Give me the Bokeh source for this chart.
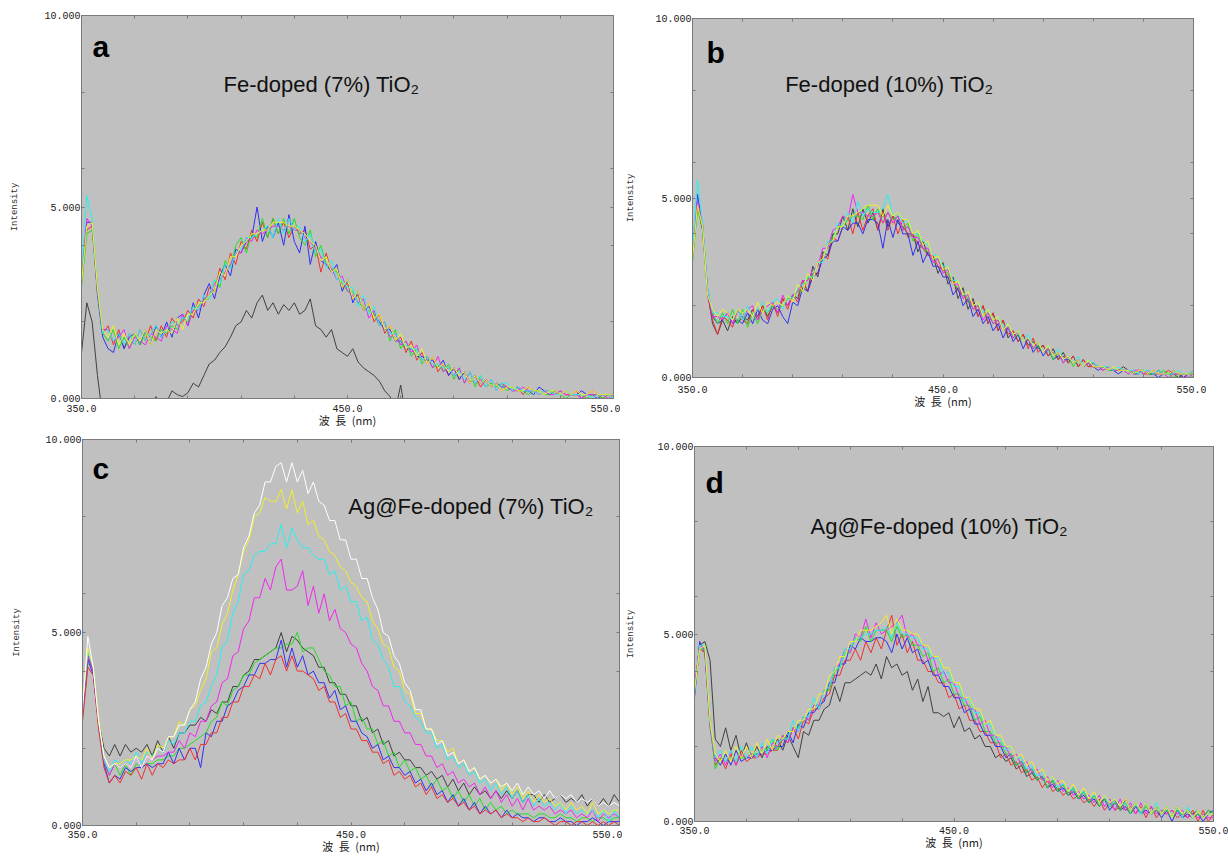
from bokeh.plotting import figure
from bokeh.models import Range1d, FixedTicker, LinearAxis, CustomJSTickFormatter, Label
from bokeh.layouts import column, row
from bokeh.embed import file_html
from bokeh.resources import INLINE

# ---------------- data (2 nm steps) ----------------
wavelength = list(range(350, 551, 2))

x_tick_values = [350, 450, 550]
x_minor_values = [350, 370, 390, 410, 430, 450, 470, 490, 510, 530, 550]
y_tick_values = [0, 5, 10]
y_minor_values = [0, 2, 4, 6, 8, 10]

titles = ["Fe-doped (7%) TiO\u2082", "Fe-doped (10%) TiO\u2082",
          "Ag@Fe-doped (7%) TiO\u2082", "Ag@Fe-doped (10%) TiO\u2082"]
letters = ["a", "b", "c", "d"]

# ---- panel a : Fe-doped (7%) TiO2 ----
a_black = [1.2, 2.5, 2.0, 0.6, -0.5, -1.0, -1.0, -1.0, -1.0, -1.0,
           -1.0, -1.0, -1.0, -0.6, 0.05, -0.3, -0.1, 0.2, 0.1, 0.05,
           0.15, 0.4, 0.3, 0.6, 0.9, 1.0, 1.2, 1.35, 1.6, 1.9,
           2.0, 2.3, 2.1, 2.5, 2.7, 2.3, 2.5, 2.2, 2.45, 2.3,
           2.5, 2.2, 2.3, 2.6, 1.9, 1.8, 1.6, 1.8, 1.3, 1.2,
           1.1, 1.3, 0.95, 0.8, 0.7, 0.6, 0.45, 0.2, 0.05, -0.3,
           0.35, -0.5, -1.0, -1.0, -1.0, -1.0, -1.0, -1.0, -1.0, -1.0,
           -1.0, -1.0, -1.0, -1.0, -1.0, -1.0, -1.0, -1.0, -1.0, -1.0,
           -1.0, -1.0, -1.0, -1.0, -1.0, -1.0, -1.0, -1.0, -1.0, -1.0,
           -1.0, -1.0, -1.0, -1.0, -1.0, -1.0, -1.0, -1.0, -1.0, -1.0,
           -1.0]
a_red = [3.0, 4.4, 4.5, 2.9, 1.7, 1.9, 1.4, 1.8, 1.3, 1.7,
         1.4, 1.8, 1.5, 1.9, 1.5, 1.9, 1.6, 2.1, 1.9, 2.0,
         2.3, 2.1, 2.6, 2.4, 2.9, 2.8, 3.4, 3.1, 3.8, 3.5,
         4.1, 3.9, 4.4, 4.1, 4.6, 4.2, 4.7, 4.3, 4.6, 4.2,
         4.5, 4.3, 4.4, 3.9, 4.0, 3.3, 3.8, 3.3, 3.4, 2.9,
         3.0, 2.6, 2.7, 2.3, 2.5, 2.0, 2.2, 1.7, 1.9, 1.5,
         1.6, 1.2, 1.5, 1.0, 1.2, 0.9, 1.1, 0.7, 0.9, 0.6,
         0.8, 0.5, 0.7, 0.4, 0.6, 0.3, 0.5, 0.3, 0.4, 0.2,
         0.3, 0.2, 0.3, 0.1, 0.3, 0.2, 0.1, 0.2, 0.2, 0.1,
         0.2, 0.1, 0.1, 0.2, 0.0, 0.1, 0.2, 0.1, 0.0, 0.1,
         0.1]
a_blue = [3.2, 4.6, 4.6, 2.7, 1.6, 1.3, 1.2, 1.7, 1.3, 1.6,
          1.7, 1.4, 1.8, 1.4, 1.9, 1.6, 2.0, 1.6, 2.1, 2.2,
          1.9, 2.5, 2.1, 2.7, 3.0, 2.6, 3.2, 3.5, 3.2, 3.9,
          3.8, 4.1, 4.2, 5.0, 4.1, 4.5, 4.2, 4.6, 4.0, 4.8,
          4.1, 3.8, 4.5, 3.5, 4.1, 3.6, 3.5, 3.3, 3.5, 2.8,
          3.1, 2.5, 2.8, 2.3, 2.4, 2.2, 2.0, 1.8, 1.8, 1.5,
          1.5, 1.3, 1.3, 1.1, 1.1, 1.0, 1.0, 0.8, 1.0, 0.6,
          0.8, 0.5, 0.7, 0.4, 0.6, 0.4, 0.5, 0.3, 0.4, 0.3,
          0.3, 0.2, 0.3, 0.2, 0.2, 0.1, 0.3, 0.2, 0.1, 0.2,
          0.1, 0.2, 0.1, 0.1, 0.2, 0.1, 0.1, 0.0, 0.1, 0.1,
          0.1]
a_green = [2.9, 4.3, 4.4, 2.8, 1.7, 1.5, 1.8, 1.3, 1.6, 1.3,
           1.7, 1.4, 1.7, 1.6, 1.5, 1.8, 1.7, 1.9, 1.8, 2.1,
           2.0, 2.3, 2.4, 2.6, 2.6, 3.1, 2.9, 3.6, 3.4, 4.0,
           4.2, 3.8, 4.3, 4.2, 4.7, 4.2, 4.7, 4.3, 4.7, 4.3,
           4.7, 4.2, 4.0, 4.4, 3.7, 4.0, 3.5, 3.4, 3.3, 3.0,
           2.8, 2.8, 2.5, 2.4, 2.3, 2.2, 1.9, 2.0, 1.5, 1.8,
           1.3, 1.5, 1.1, 1.3, 0.9, 1.1, 0.8, 0.9, 0.7, 0.9,
           0.5, 0.8, 0.4, 0.7, 0.3, 0.6, 0.3, 0.4, 0.3, 0.4,
           0.2, 0.3, 0.2, 0.2, 0.1, 0.2, 0.2, 0.1, 0.1, 0.2,
           0.1, 0.0, 0.1, 0.1, 0.1, 0.0, 0.1, 0.1, 0.0, 0.1,
           0.0]
a_magenta = [3.1, 4.7, 4.5, 2.8, 1.8, 1.8, 1.5, 1.6, 1.8, 1.3,
             1.6, 1.5, 1.4, 1.7, 1.6, 1.5, 1.9, 1.8, 1.7, 2.2,
             1.9, 2.3, 2.3, 2.6, 2.7, 3.0, 3.1, 3.3, 3.5, 3.8,
             3.8, 4.2, 4.1, 4.4, 4.3, 4.4, 4.5, 4.5, 4.4, 4.5,
             4.4, 4.4, 4.2, 4.1, 3.9, 3.7, 3.5, 3.4, 3.1, 3.2,
             2.8, 2.7, 2.5, 2.6, 2.1, 2.3, 1.9, 2.0, 1.6, 1.7,
             1.4, 1.5, 1.2, 1.4, 1.0, 1.1, 0.8, 1.1, 0.7, 0.8,
             0.6, 0.8, 0.4, 0.7, 0.4, 0.5, 0.3, 0.5, 0.2, 0.4,
             0.3, 0.2, 0.2, 0.3, 0.2, 0.2, 0.1, 0.2, 0.1, 0.1,
             0.2, 0.1, 0.1, 0.1, 0.0, 0.1, 0.1, 0.1, 0.1, 0.0,
             0.1]
a_cyan = [3.3, 5.3, 4.7, 2.9, 1.7, 1.8, 1.5, 1.7, 1.4, 1.7,
          1.4, 1.8, 1.5, 1.7, 1.9, 1.6, 1.8, 2.0, 1.9, 2.1,
          2.1, 2.4, 2.3, 2.7, 2.6, 3.1, 3.0, 3.5, 3.4, 3.8,
          3.9, 4.2, 4.2, 4.3, 4.4, 4.5, 4.2, 4.7, 4.3, 4.7,
          4.4, 4.5, 4.1, 4.3, 3.8, 3.9, 3.4, 3.6, 3.1, 3.1,
          2.9, 2.9, 2.4, 2.7, 2.2, 2.4, 1.9, 2.0, 1.7, 1.7,
          1.5, 1.4, 1.3, 1.3, 1.0, 1.1, 0.9, 0.9, 0.8, 0.8,
          0.6, 0.7, 0.5, 0.7, 0.4, 0.6, 0.3, 0.5, 0.2, 0.4,
          0.4, 0.2, 0.3, 0.2, 0.2, 0.2, 0.1, 0.2, 0.2, 0.1,
          0.1, 0.2, 0.1, 0.1, 0.1, 0.1, 0.0, 0.1, 0.1, 0.1,
          0.0]
a_yellow = [3.0, 4.5, 4.6, 2.9, 1.8, 1.6, 1.9, 1.4, 1.7, 1.4,
            1.7, 1.5, 1.8, 1.4, 1.8, 1.7, 1.8, 1.7, 2.1, 1.8,
            2.2, 2.2, 2.5, 2.5, 2.7, 2.8, 3.3, 3.2, 3.7, 3.7,
            4.0, 4.1, 4.3, 4.3, 4.4, 4.4, 4.6, 4.6, 4.6, 4.5,
            4.5, 4.4, 4.3, 4.1, 4.0, 3.6, 3.7, 3.3, 3.4, 2.9,
            3.1, 2.6, 2.8, 2.3, 2.5, 2.1, 2.2, 1.8, 1.9, 1.5,
            1.7, 1.3, 1.4, 1.1, 1.3, 0.9, 1.1, 0.8, 0.9, 0.7,
            0.8, 0.6, 0.7, 0.4, 0.6, 0.4, 0.5, 0.3, 0.4, 0.2,
            0.3, 0.3, 0.2, 0.2, 0.3, 0.2, 0.2, 0.1, 0.2, 0.2,
            0.1, 0.2, 0.1, 0.2, 0.1, 0.1, 0.2, 0.1, 0.1, 0.1,
            0.1]

# ---- panel b : Fe-doped (10%) TiO2 ----
b_black = [3.3, 4.8, 4.1, 2.4, 1.5, 1.2, 1.6, 1.3, 1.7, 1.5,
           1.7, 1.6, 1.9, 1.7, 2.0, 1.7, 2.0, 1.8, 2.2, 2.0,
           2.3, 2.2, 2.7, 2.4, 3.1, 2.8, 3.5, 3.4, 4.0, 4.0,
           4.5, 4.1, 4.7, 4.2, 4.7, 4.3, 4.6, 4.1, 4.7, 4.2,
           4.5, 4.3, 4.2, 4.0, 4.0, 3.5, 3.8, 3.4, 3.4, 2.9,
           3.2, 2.6, 2.8, 2.2, 2.5, 1.9, 2.2, 1.7, 2.0, 1.5,
           1.8, 1.3, 1.6, 1.1, 1.3, 1.0, 1.2, 0.9, 1.0, 0.8,
           0.9, 0.6, 0.8, 0.5, 0.7, 0.4, 0.6, 0.3, 0.5, 0.3,
           0.4, 0.3, 0.3, 0.2, 0.2, 0.2, 0.3, 0.2, 0.1, 0.2,
           0.2, 0.1, 0.1, 0.2, 0.1, 0.1, 0.1, 0.0, 0.1, 0.1,
           0.1]
b_red = [3.5, 4.7, 4.3, 2.3, 1.6, 1.2, 1.7, 1.6, 1.4, 1.9,
         1.6, 1.5, 1.9, 1.6, 2.0, 1.6, 2.1, 1.7, 2.2, 1.9,
         2.3, 2.1, 2.7, 2.4, 2.9, 2.9, 3.4, 3.3, 3.9, 3.8,
         4.2, 4.5, 4.0, 4.6, 4.1, 4.5, 4.7, 4.1, 4.6, 4.1,
         4.5, 4.0, 4.4, 3.9, 4.0, 3.7, 3.6, 3.4, 3.4, 3.1,
         3.0, 2.8, 2.7, 2.4, 2.3, 2.1, 2.1, 1.7, 2.0, 1.5,
         1.8, 1.3, 1.6, 1.2, 1.3, 1.0, 1.2, 0.8, 1.1, 0.7,
         0.9, 0.6, 0.7, 0.5, 0.6, 0.4, 0.6, 0.3, 0.5, 0.3,
         0.3, 0.3, 0.2, 0.3, 0.2, 0.2, 0.2, 0.2, 0.1, 0.2,
         0.1, 0.1, 0.2, 0.1, 0.1, 0.2, 0.1, 0.1, 0.0, 0.1,
         0.2]
b_blue = [3.4, 5.1, 4.2, 2.5, 1.7, 1.5, 1.6, 1.8, 1.5, 1.6,
          1.5, 1.8, 1.5, 1.9, 1.6, 1.5, 1.9, 2.0, 1.7, 1.5,
          2.1, 2.0, 2.5, 2.4, 2.8, 2.9, 3.3, 3.4, 3.8, 3.8,
          4.2, 4.1, 4.3, 4.3, 4.0, 4.4, 4.4, 4.3, 3.6, 4.4,
          3.9, 4.4, 4.0, 4.0, 3.4, 3.8, 3.2, 3.5, 3.1, 3.1,
          2.8, 2.8, 2.3, 2.5, 2.0, 2.2, 1.7, 1.9, 1.5, 1.7,
          1.3, 1.5, 1.1, 1.4, 1.0, 1.2, 0.8, 1.1, 0.7, 0.9,
          0.6, 0.8, 0.5, 0.6, 0.5, 0.5, 0.4, 0.5, 0.3, 0.4,
          0.3, 0.2, 0.3, 0.2, 0.2, 0.1, 0.2, 0.2, 0.1, 0.1,
          0.2, 0.1, 0.1, 0.0, 0.1, 0.1, 0.2, 0.1, 0.0, 0.1,
          0.1]
b_green = [3.2, 4.7, 4.2, 2.4, 1.8, 1.5, 1.8, 1.5, 1.9, 1.5,
           1.9, 1.4, 1.8, 1.5, 1.9, 1.8, 2.0, 1.9, 2.0, 2.2,
           2.2, 2.4, 2.4, 2.8, 2.8, 3.2, 3.3, 3.7, 3.9, 4.2,
           4.2, 4.4, 4.5, 4.5, 4.4, 4.8, 4.4, 4.7, 4.3, 4.6,
           4.4, 4.5, 4.1, 4.3, 3.8, 4.0, 3.6, 3.5, 3.3, 3.3,
           3.0, 2.9, 2.6, 2.5, 2.3, 2.2, 1.9, 2.0, 1.7, 1.8,
           1.5, 1.6, 1.3, 1.4, 1.1, 1.2, 1.0, 1.1, 0.8, 0.9,
           0.7, 0.8, 0.5, 0.7, 0.4, 0.6, 0.3, 0.5, 0.3, 0.4,
           0.3, 0.3, 0.3, 0.2, 0.2, 0.2, 0.2, 0.1, 0.2, 0.1,
           0.2, 0.1, 0.1, 0.1, 0.2, 0.1, 0.0, 0.1, 0.1, 0.1,
           0.0]
b_magenta = [3.4, 4.9, 4.3, 2.4, 1.7, 1.7, 1.6, 1.8, 1.5, 1.9,
             1.6, 1.9, 2.0, 1.6, 1.9, 2.0, 2.1, 1.8, 2.3, 2.0,
             2.3, 2.4, 2.7, 2.7, 3.0, 3.1, 3.6, 3.6, 4.1, 4.2,
             4.5, 4.4, 5.1, 4.6, 4.6, 4.5, 4.5, 4.6, 4.3, 4.6,
             4.3, 4.5, 4.1, 4.2, 3.9, 3.9, 3.6, 3.6, 3.2, 3.3,
             2.9, 3.0, 2.6, 2.6, 2.2, 2.3, 1.9, 2.0, 1.6, 1.8,
             1.5, 1.6, 1.3, 1.4, 1.1, 1.3, 1.0, 1.1, 0.8, 1.0,
             0.7, 0.8, 0.6, 0.7, 0.4, 0.6, 0.4, 0.5, 0.3, 0.4,
             0.3, 0.3, 0.2, 0.3, 0.2, 0.2, 0.2, 0.1, 0.2, 0.2,
             0.1, 0.2, 0.1, 0.1, 0.1, 0.0, 0.1, 0.1, 0.1, 0.0,
             0.1]
b_cyan = [3.5, 5.5, 4.3, 2.5, 1.8, 1.8, 1.7, 1.7, 1.6, 1.9,
          1.6, 2.0, 1.7, 1.9, 2.1, 1.8, 2.1, 2.2, 1.9, 2.3,
          2.2, 2.5, 2.6, 2.8, 2.8, 3.2, 3.2, 3.8, 3.8, 4.3,
          4.2, 4.6, 4.3, 4.9, 4.5, 4.7, 4.6, 4.6, 4.7, 5.1,
          4.5, 4.6, 4.3, 4.4, 4.0, 4.0, 3.8, 3.7, 3.4, 3.4,
          3.1, 3.1, 2.7, 2.7, 2.3, 2.4, 2.0, 2.1, 1.8, 1.9,
          1.6, 1.7, 1.4, 1.5, 1.2, 1.3, 1.0, 1.2, 0.9, 1.0,
          0.7, 0.9, 0.6, 0.8, 0.5, 0.6, 0.4, 0.6, 0.3, 0.5,
          0.4, 0.3, 0.3, 0.3, 0.2, 0.3, 0.2, 0.2, 0.2, 0.1,
          0.2, 0.2, 0.1, 0.2, 0.1, 0.1, 0.1, 0.2, 0.1, 0.1,
          0.2]
b_yellow = [3.3, 4.8, 4.2, 2.3, 1.9, 1.7, 1.9, 1.8, 1.6, 1.9,
            1.8, 1.9, 1.7, 2.1, 1.8, 2.1, 2.0, 2.1, 2.0, 2.3,
            2.1, 2.6, 2.4, 2.9, 2.7, 3.2, 3.3, 3.7, 3.8, 4.2,
            4.2, 4.5, 4.5, 4.6, 4.7, 4.8, 4.8, 4.8, 4.5, 4.8,
            4.5, 4.6, 4.4, 4.4, 4.0, 4.1, 3.7, 3.8, 3.3, 3.4,
            3.0, 3.1, 2.6, 2.7, 2.3, 2.4, 2.0, 2.1, 1.7, 1.9,
            1.6, 1.7, 1.3, 1.5, 1.2, 1.3, 1.0, 1.1, 0.9, 1.0,
            0.7, 0.9, 0.6, 0.7, 0.5, 0.6, 0.4, 0.5, 0.3, 0.5,
            0.3, 0.3, 0.3, 0.2, 0.3, 0.2, 0.2, 0.2, 0.1, 0.2,
            0.2, 0.1, 0.2, 0.1, 0.1, 0.1, 0.2, 0.1, 0.1, 0.1,
            0.1]

# ---- panel c : Ag@Fe-doped (7%) TiO2 ----
c_black = [3.0, 4.4, 4.0, 2.7, 2.0, 1.8, 2.1, 1.8, 2.1, 1.9,
           2.0, 1.9, 2.1, 1.8, 2.2, 1.9, 2.3, 2.0, 2.4, 2.4,
           2.6, 2.6, 2.8, 2.7, 3.0, 2.9, 3.2, 3.2, 3.6, 3.6,
           3.9, 4.0, 4.3, 4.3, 4.4, 4.5, 4.6, 5.0, 4.5, 4.9,
           4.8, 4.6, 4.5, 4.4, 4.1, 4.1, 3.7, 3.7, 3.4, 3.4,
           3.1, 3.1, 2.7, 2.8, 2.4, 2.5, 2.1, 2.2, 1.8, 1.9,
           1.7, 1.7, 1.5, 1.5, 1.3, 1.4, 1.2, 1.3, 1.0, 1.2,
           0.9, 1.1, 0.8, 1.0, 0.8, 0.9, 0.7, 0.9, 0.7, 0.9,
           0.7, 0.9, 0.6, 0.8, 0.8, 0.6, 0.8, 0.6, 0.7, 0.8,
           0.6, 0.7, 0.6, 0.8, 0.5, 0.7, 0.5, 0.7, 0.5, 0.8,
           0.6]
c_green = [2.8, 4.2, 4.1, 2.6, 1.6, 1.3, 1.6, 1.3, 1.6, 1.3,
           1.6, 1.5, 1.6, 1.6, 1.7, 1.7, 1.8, 1.8, 2.0, 2.0,
           2.1, 2.2, 2.3, 2.4, 2.7, 2.8, 3.2, 3.1, 3.5, 3.6,
           3.9, 3.9, 4.2, 4.3, 4.4, 4.5, 4.6, 4.6, 4.7, 4.7,
           5.0, 4.5, 4.6, 4.6, 4.3, 4.0, 3.9, 3.6, 3.6, 3.1,
           3.2, 2.7, 2.8, 2.5, 2.5, 2.1, 2.2, 1.8, 1.9, 1.5,
           1.7, 1.4, 1.5, 1.2, 1.3, 1.0, 1.2, 0.9, 1.0, 0.7,
           0.9, 0.6, 0.8, 0.5, 0.7, 0.4, 0.6, 0.4, 0.5, 0.3,
           0.4, 0.3, 0.3, 0.3, 0.2, 0.3, 0.3, 0.2, 0.2, 0.3,
           0.2, 0.2, 0.1, 0.2, 0.2, 0.1, 0.2, 0.2, 0.1, 0.2,
           0.2]
c_blue = [2.9, 4.3, 3.9, 2.6, 1.6, 1.1, 1.3, 1.2, 1.5, 1.4,
          1.5, 1.5, 1.6, 1.5, 1.6, 1.6, 1.9, 1.6, 2.0, 1.7,
          2.0, 2.0, 1.5, 2.4, 2.3, 2.7, 2.7, 3.1, 3.2, 3.5,
          3.6, 3.9, 3.9, 4.2, 4.2, 4.3, 4.3, 4.8, 4.1, 4.6,
          4.1, 4.4, 3.9, 4.0, 3.7, 3.7, 3.3, 3.5, 3.0, 3.1,
          2.7, 2.7, 2.4, 2.3, 2.0, 2.1, 1.7, 1.8, 1.5, 1.5,
          1.3, 1.4, 1.1, 1.2, 0.9, 1.1, 0.8, 0.9, 0.6, 0.8,
          0.5, 0.7, 0.4, 0.6, 0.3, 0.5, 0.3, 0.4, 0.2, 0.4,
          0.2, 0.3, 0.2, 0.2, 0.1, 0.2, 0.2, 0.1, 0.1, 0.2,
          0.1, 0.1, 0.0, 0.1, 0.1, 0.2, 0.1, 0.0, 0.1, 0.1,
          0.1]
c_red = [2.7, 4.1, 3.9, 2.5, 1.5, 1.1, 1.3, 1.1, 1.4, 1.3,
         1.5, 1.2, 1.6, 1.3, 1.6, 1.5, 1.7, 1.6, 1.7, 1.7,
         2.0, 1.7, 2.1, 2.1, 2.4, 2.4, 2.8, 2.8, 3.2, 3.2,
         3.6, 3.6, 3.9, 3.8, 4.2, 3.9, 4.3, 4.4, 4.0, 4.4,
         4.0, 4.0, 3.9, 3.8, 3.5, 3.6, 3.2, 3.2, 2.8, 2.9,
         2.5, 2.5, 2.2, 2.2, 1.9, 1.9, 1.6, 1.7, 1.3, 1.4,
         1.2, 1.3, 1.0, 1.1, 0.8, 1.0, 0.7, 0.8, 0.6, 0.7,
         0.5, 0.6, 0.4, 0.5, 0.3, 0.4, 0.3, 0.4, 0.2, 0.3,
         0.2, 0.2, 0.1, 0.2, 0.1, 0.1, 0.2, 0.1, 0.0, 0.1,
         0.1, 0.0, 0.1, 0.1, 0.0, 0.1, 0.0, 0.1, 0.0, 0.1,
         0.0]
c_magenta = [3.0, 4.4, 4.0, 2.7, 1.7, 1.3, 1.6, 1.5, 1.6, 1.5,
             1.8, 1.5, 1.8, 1.7, 1.8, 1.8, 1.9, 1.9, 2.2, 2.0,
             2.4, 2.3, 2.7, 2.7, 3.1, 3.2, 3.7, 3.8, 4.4, 4.5,
             5.1, 5.3, 5.9, 5.9, 6.4, 6.1, 6.7, 6.9, 6.1, 6.1,
             6.2, 6.6, 5.7, 6.2, 5.5, 6.0, 5.3, 5.6, 5.1, 5.0,
             4.7, 4.6, 4.2, 4.0, 3.6, 3.5, 3.1, 3.1, 2.7, 2.7,
             2.4, 2.4, 2.1, 2.1, 1.8, 1.8, 1.5, 1.6, 1.3, 1.4,
             1.1, 1.2, 1.0, 1.1, 0.8, 1.0, 0.7, 0.9, 0.6, 0.8,
             0.5, 0.7, 0.4, 0.7, 0.4, 0.5, 0.4, 0.5, 0.3, 0.4,
             0.3, 0.4, 0.2, 0.3, 0.2, 0.4, 0.1, 0.3, 0.2, 0.3,
             0.2]
c_cyan = [3.1, 4.5, 4.1, 2.7, 1.7, 1.4, 1.7, 1.6, 1.7, 1.6,
          1.9, 1.6, 1.9, 1.8, 2.0, 1.9, 2.2, 2.1, 2.4, 2.4,
          2.7, 2.7, 3.1, 3.2, 3.6, 3.9, 4.6, 4.8, 5.5, 5.8,
          6.5, 6.6, 7.0, 7.1, 7.1, 7.3, 7.3, 7.8, 7.2, 7.7,
          7.4, 7.2, 7.2, 7.0, 6.9, 6.9, 6.5, 6.6, 6.1, 6.2,
          5.8, 5.8, 5.3, 5.4, 4.8, 4.7, 4.3, 4.1, 3.6, 3.6,
          3.2, 3.1, 2.8, 2.7, 2.4, 2.4, 2.0, 2.1, 1.7, 1.8,
          1.5, 1.6, 1.3, 1.4, 1.1, 1.2, 0.9, 1.1, 0.8, 1.0,
          0.7, 0.9, 0.6, 0.8, 0.5, 0.7, 0.5, 0.6, 0.4, 0.6,
          0.3, 0.5, 0.3, 0.4, 0.3, 0.4, 0.2, 0.4, 0.1, 0.4,
          0.2]
c_yellow = [3.2, 4.6, 4.1, 2.8, 1.8, 1.5, 1.6, 1.6, 1.7, 1.7,
            1.8, 1.7, 2.0, 1.7, 2.1, 2.0, 2.3, 2.3, 2.7, 2.6,
            3.0, 3.1, 3.5, 3.8, 4.5, 4.6, 5.2, 5.5, 6.1, 6.5,
            7.1, 7.4, 8.0, 8.1, 8.5, 8.4, 8.4, 8.7, 8.2, 8.7,
            8.1, 8.4, 7.8, 7.9, 7.5, 7.4, 7.1, 7.0, 6.7, 6.6,
            6.3, 6.2, 5.9, 5.8, 5.3, 5.1, 4.7, 4.6, 4.1, 4.0,
            3.5, 3.4, 2.9, 2.9, 2.5, 2.5, 2.2, 2.2, 1.9, 2.0,
            1.6, 1.7, 1.4, 1.5, 1.2, 1.3, 1.1, 1.2, 0.9, 1.1,
            0.8, 1.0, 0.7, 0.9, 0.6, 0.8, 0.6, 0.7, 0.5, 0.6,
            0.4, 0.6, 0.4, 0.5, 0.3, 0.6, 0.3, 0.4, 0.3, 0.4,
            0.4]
c_white = [3.0, 4.9, 4.1, 2.7, 1.8, 1.5, 1.6, 1.5, 1.6, 1.5,
           1.8, 1.5, 1.8, 1.7, 2.0, 1.9, 2.3, 2.3, 2.6, 2.6,
           3.0, 3.2, 3.8, 4.1, 4.7, 5.0, 5.7, 5.9, 6.4, 6.5,
           7.2, 7.5, 8.1, 8.3, 8.9, 8.9, 9.3, 9.4, 8.9, 9.4,
           8.9, 9.2, 8.6, 8.9, 8.4, 8.3, 7.9, 7.9, 7.4, 7.4,
           6.9, 6.9, 6.4, 6.4, 5.9, 5.6, 5.0, 4.9, 4.4, 4.2,
           3.7, 3.5, 3.0, 3.0, 2.5, 2.5, 2.1, 2.2, 1.8, 1.9,
           1.6, 1.7, 1.4, 1.5, 1.2, 1.3, 1.1, 1.2, 1.0, 1.1,
           0.9, 1.1, 0.8, 1.0, 0.8, 0.9, 0.7, 0.9, 0.7, 0.8,
           0.7, 0.8, 0.6, 0.7, 0.6, 0.7, 0.5, 0.6, 0.5, 0.6,
           0.5]

# ---- panel d : Ag@Fe-doped (10%) TiO2 ----
d_black = [3.5, 4.7, 4.8, 4.3, 2.2, 2.0, 2.5, 1.9, 2.3, 1.7,
           2.1, 1.7, 2.0, 1.7, 2.0, 1.9, 2.2, 1.9, 2.3, 2.0,
           1.7, 2.4, 2.3, 2.7, 2.7, 3.0, 3.1, 3.6, 3.2, 3.7,
           3.7, 3.8, 3.9, 4.0, 3.9, 4.2, 3.8, 4.4, 4.1, 4.2,
           3.9, 4.0, 3.5, 3.8, 3.2, 3.6, 2.9, 2.9, 2.8, 2.9,
           2.5, 2.8, 2.4, 2.5, 2.2, 2.3, 2.0, 2.0, 1.7, 1.8,
           1.6, 1.7, 1.4, 1.5, 1.2, 1.3, 1.1, 1.2, 0.9, 1.1,
           0.8, 1.0, 0.7, 0.9, 0.6, 0.8, 0.5, 0.7, 0.5, 0.6,
           0.4, 0.6, 0.3, 0.6, 0.3, 0.5, 0.2, 0.5, 0.2, 0.4,
           0.2, 0.4, 0.1, 0.4, 0.1, 0.3, 0.2, 0.3, 0.1, 0.3,
           0.2]
d_red = [3.4, 4.6, 4.5, 2.5, 1.5, 1.7, 1.4, 1.8, 1.5, 1.9,
         1.6, 1.7, 1.7, 1.8, 1.8, 1.9, 1.9, 2.2, 2.1, 2.5,
         2.2, 2.7, 2.6, 3.0, 3.0, 3.3, 3.4, 3.9, 3.9, 4.3,
         4.3, 4.6, 4.3, 4.8, 4.5, 4.9, 4.6, 5.1, 5.5, 4.7,
         5.0, 4.5, 4.8, 4.3, 4.3, 4.0, 4.0, 3.7, 3.7, 3.3,
         3.4, 3.0, 3.1, 2.7, 2.7, 2.4, 2.4, 2.1, 2.1, 1.7,
         1.8, 1.5, 1.6, 1.3, 1.4, 1.1, 1.2, 0.9, 1.1, 0.8,
         0.9, 0.7, 0.8, 0.6, 0.7, 0.5, 0.6, 0.4, 0.6, 0.3,
         0.5, 0.3, 0.4, 0.3, 0.4, 0.2, 0.4, 0.1, 0.4, 0.1,
         0.3, 0.2, 0.3, 0.1, 0.2, 0.1, 0.3, 0.0, 0.3, 0.0,
         0.2]
d_blue = [3.3, 4.8, 4.5, 2.6, 1.7, 1.5, 1.8, 1.5, 1.9, 1.6,
          1.7, 1.7, 1.8, 1.8, 1.9, 1.9, 2.0, 2.0, 2.4, 2.1,
          2.6, 2.5, 2.9, 2.9, 3.1, 3.2, 3.7, 3.7, 4.2, 4.2,
          4.7, 4.6, 4.9, 4.8, 4.8, 4.9, 4.9, 4.8, 4.5, 5.0,
          4.6, 4.9, 4.5, 4.6, 4.2, 4.3, 3.9, 3.9, 3.6, 3.6,
          3.3, 3.3, 2.9, 3.0, 2.6, 2.6, 2.3, 2.3, 2.0, 2.0,
          1.7, 1.8, 1.5, 1.6, 1.3, 1.4, 1.1, 1.2, 0.9, 1.0,
          0.8, 0.9, 0.7, 0.8, 0.6, 0.7, 0.5, 0.6, 0.4, 0.6,
          0.3, 0.5, 0.3, 0.4, 0.2, 0.4, 0.2, 0.3, 0.2, 0.3,
          0.1, 0.3, 0.0, 0.3, 0.1, 0.2, 0.1, 0.2, 0.0, 0.2,
          0.3]
d_green = [3.5, 4.6, 4.6, 2.7, 1.4, 1.7, 1.6, 1.7, 1.6, 1.7,
           1.7, 1.8, 1.8, 1.9, 1.9, 2.2, 1.9, 2.3, 2.2, 2.5,
           2.5, 2.8, 2.7, 3.1, 3.1, 3.5, 3.5, 4.0, 4.1, 4.5,
           4.5, 4.9, 4.8, 5.2, 4.8, 5.1, 5.1, 5.1, 4.8, 5.2,
           4.9, 5.0, 4.7, 4.7, 4.4, 4.5, 4.0, 4.1, 3.7, 3.8,
           3.4, 3.4, 3.1, 3.1, 2.7, 2.8, 2.4, 2.4, 2.1, 2.1,
           1.8, 1.8, 1.5, 1.6, 1.3, 1.4, 1.1, 1.2, 0.9, 1.1,
           0.8, 1.0, 0.7, 0.9, 0.6, 0.8, 0.5, 0.7, 0.4, 0.6,
           0.4, 0.5, 0.3, 0.5, 0.2, 0.5, 0.2, 0.4, 0.2, 0.3,
           0.2, 0.3, 0.1, 0.3, 0.2, 0.3, 0.1, 0.2, 0.1, 0.3,
           0.2]
d_magenta = [3.6, 4.7, 4.6, 2.6, 1.6, 1.8, 1.5, 1.9, 1.5, 1.8,
             1.7, 1.8, 1.7, 2.0, 1.7, 2.1, 2.0, 2.3, 2.1, 2.5,
             2.4, 2.8, 2.7, 3.1, 3.1, 3.5, 3.6, 4.1, 4.2, 4.6,
             4.5, 5.0, 4.9, 5.4, 4.9, 5.3, 5.0, 5.1, 5.2, 5.3,
             5.5, 4.9, 5.0, 4.7, 4.7, 4.3, 4.4, 3.9, 4.0, 3.7,
             3.7, 3.3, 3.3, 3.0, 3.0, 2.6, 2.7, 2.3, 2.3, 2.0,
             2.0, 1.7, 1.8, 1.5, 1.6, 1.3, 1.4, 1.1, 1.2, 0.9,
             1.1, 0.8, 0.9, 0.7, 0.8, 0.6, 0.7, 0.5, 0.7, 0.4,
             0.6, 0.3, 0.6, 0.3, 0.5, 0.2, 0.5, 0.2, 0.4, 0.2,
             0.3, 0.2, 0.3, 0.2, 0.3, 0.1, 0.2, 0.1, 0.2, 0.1,
             0.1]
d_cyan = [3.4, 4.7, 4.7, 2.6, 1.7, 1.9, 1.6, 1.9, 1.6, 2.0,
          1.7, 2.0, 1.7, 2.1, 1.8, 2.2, 2.1, 2.2, 2.2, 2.7,
          2.4, 2.8, 2.8, 3.3, 3.0, 3.5, 3.6, 4.1, 4.1, 4.6,
          4.6, 4.9, 4.9, 5.0, 5.0, 5.1, 5.1, 5.2, 4.9, 5.3,
          5.0, 5.0, 4.9, 4.9, 4.6, 4.6, 4.3, 4.4, 3.9, 4.0,
          3.6, 3.6, 3.2, 3.3, 2.9, 2.9, 2.6, 2.6, 2.2, 2.2,
          1.9, 2.0, 1.7, 1.7, 1.4, 1.5, 1.2, 1.3, 1.1, 1.2,
          0.9, 1.0, 0.8, 0.9, 0.7, 0.8, 0.6, 0.7, 0.5, 0.7,
          0.4, 0.6, 0.4, 0.5, 0.3, 0.5, 0.2, 0.5, 0.2, 0.5,
          0.2, 0.4, 0.1, 0.4, 0.1, 0.4, 0.1, 0.3, 0.1, 0.2,
          0.2]
d_yellow = [3.5, 4.6, 4.7, 2.7, 1.8, 1.6, 1.9, 1.6, 2.0, 1.7,
            2.0, 1.7, 2.1, 1.8, 2.2, 1.9, 2.3, 2.2, 2.4, 2.4,
            2.7, 2.7, 3.0, 3.0, 3.4, 3.4, 3.9, 4.0, 4.4, 4.4,
            4.8, 4.8, 5.1, 5.1, 5.1, 5.2, 5.3, 5.5, 5.0, 5.4,
            5.1, 5.1, 5.0, 5.0, 4.7, 4.7, 4.4, 4.4, 4.1, 4.1,
            3.7, 3.7, 3.3, 3.3, 3.0, 3.0, 2.6, 2.7, 2.3, 2.3,
            2.0, 2.0, 1.7, 1.8, 1.5, 1.6, 1.3, 1.4, 1.1, 1.2,
            1.0, 1.1, 0.8, 1.0, 0.7, 0.9, 0.6, 0.8, 0.5, 0.7,
            0.5, 0.6, 0.4, 0.6, 0.3, 0.5, 0.3, 0.5, 0.2, 0.4,
            0.2, 0.4, 0.1, 0.4, 0.2, 0.3, 0.1, 0.3, 0.1, 0.2,
            0.2]

# ---------------- styling ----------------
COLORS = {"black": "#404040", "red": "#f03030", "blue": "#3030f0",
          "green": "#20e020", "magenta": "#f028f0", "cyan": "#28f0f0",
          "yellow": "#f0f028", "white": "#ffffff"}
FRAME = "#7a7a7a"
TICK_FONT = "Liberation Mono"

panels = [
    dict(series=[("black", a_black), ("red", a_red), ("blue", a_blue), ("green", a_green),
                 ("magenta", a_magenta), ("cyan", a_cyan), ("yellow", a_yellow)],
         w=620, h=430, bl=81, br=7, bt=15, bb=32, xs=6, ys=21,
         letter_at=(354.1, 9.2), title_at=(403.4, 8.2)),
    dict(series=[("black", b_black), ("red", b_red), ("blue", b_blue), ("green", b_green),
                 ("magenta", b_magenta), ("cyan", b_cyan), ("yellow", b_yellow)],
         w=586, h=430, bl=72, br=13, bt=18, bb=53, xs=8, ys=16,
         letter_at=(355.6, 9.06), title_at=(387.0, 8.16)),
    dict(series=[("black", c_black), ("green", c_green), ("blue", c_blue), ("red", c_red),
                 ("magenta", c_magenta), ("cyan", c_cyan), ("yellow", c_yellow), ("white", c_white)],
         w=622, h=426, bl=82, br=3, bt=9, bb=30, xs=5, ys=20,
         letter_at=(353.7, 9.25), title_at=(449.0, 8.27)),
    dict(series=[("black", d_black), ("red", d_red), ("blue", d_blue), ("green", d_green),
                 ("magenta", d_magenta), ("cyan", d_cyan), ("yellow", d_yellow)],
         w=606, h=426, bl=72, br=15, bt=16, bb=35, xs=5, ys=18,
         letter_at=(354.2, 9.04), title_at=(394.7, 7.87)),
]


def style_axis(ax, ticks, minor):
    ax.ticker = FixedTicker(ticks=ticks, minor_ticks=minor)
    ax.axis_line_color = FRAME
    ax.major_tick_line_color = FRAME
    ax.minor_tick_line_color = FRAME
    ax.major_tick_in = 3
    ax.major_tick_out = 0
    ax.minor_tick_in = 3
    ax.minor_tick_out = 0


def make_panel(cfg, letter, title):
    p = figure(width=cfg["w"], height=cfg["h"], x_range=Range1d(350, 550), y_range=Range1d(0, 10),
               output_backend="svg", toolbar_location=None, tools="",
               min_border_left=cfg["bl"], min_border_right=cfg["br"],
               min_border_top=cfg["bt"], min_border_bottom=cfg["bb"])
    p.frame_align = False
    p.background_fill_color = "#c0c0c0"
    p.border_fill_color = "white"
    p.outline_line_color = FRAME
    p.grid.visible = False

    xa = p.xaxis[0]
    style_axis(xa, x_tick_values, x_minor_values)
    xa.formatter = CustomJSTickFormatter(code="return tick.toFixed(1)")
    xa.major_label_text_font = TICK_FONT
    xa.major_label_text_font_size = "10px"
    xa.major_label_text_color = "#202020"
    xa.major_label_standoff = cfg["xs"]
    xa.axis_label = "波\u2002長\u2002(nm)"
    xa.axis_label_text_font = "Noto Sans CJK JP"
    xa.axis_label_text_font_size = "11px"
    xa.axis_label_text_font_style = "normal"
    xa.axis_label_text_color = "#202020"
    xa.axis_label_standoff = -3

    ya = p.yaxis[0]
    style_axis(ya, y_tick_values, y_minor_values)
    ya.formatter = CustomJSTickFormatter(code="return tick.toFixed(3)")
    ya.major_label_text_font = TICK_FONT
    ya.major_label_text_font_size = "10px"
    ya.major_label_text_color = "#202020"
    ya.major_label_standoff = 1
    ya.axis_label = "Intensity"
    ya.axis_label_text_font = TICK_FONT
    ya.axis_label_text_font_size = "9px"
    ya.axis_label_text_font_style = "normal"
    ya.axis_label_text_color = "#303030"
    ya.axis_label_standoff = cfg["ys"]

    blank = CustomJSTickFormatter(code="return ''")
    top = LinearAxis(formatter=blank, major_label_text_font_size="0px", major_label_standoff=0)
    style_axis(top, x_tick_values, x_minor_values)
    p.add_layout(top, "above")
    right = LinearAxis(formatter=blank, major_label_text_font_size="0px", major_label_standoff=0)
    style_axis(right, y_tick_values, y_minor_values)
    p.add_layout(right, "right")

    for cname, vals in cfg["series"]:
        assert len(vals) == len(wavelength), (letter, cname, len(vals))
        p.line(wavelength, vals, line_color=COLORS[cname], line_width=1)

    lx, ly = cfg["letter_at"]
    p.add_layout(Label(x=lx, y=ly, text=letter, text_font="Liberation Sans",
                       text_font_size="30px", text_font_style="bold", text_color="#000000",
                       text_baseline="alphabetic", text_align="left"))
    tx, ty = cfg["title_at"]
    p.add_layout(Label(x=tx, y=ty, text=title, text_font="Liberation Sans",
                       text_font_size="22px", text_color="#111111",
                       text_baseline="alphabetic", text_align="left"))
    return p


figs = [make_panel(cfg, letters[i], titles[i]) for i, cfg in enumerate(panels)]
layout = column(row(figs[0], figs[1]), row(figs[2], figs[3]))

open("out.html", "w").write(file_html(layout, INLINE))
